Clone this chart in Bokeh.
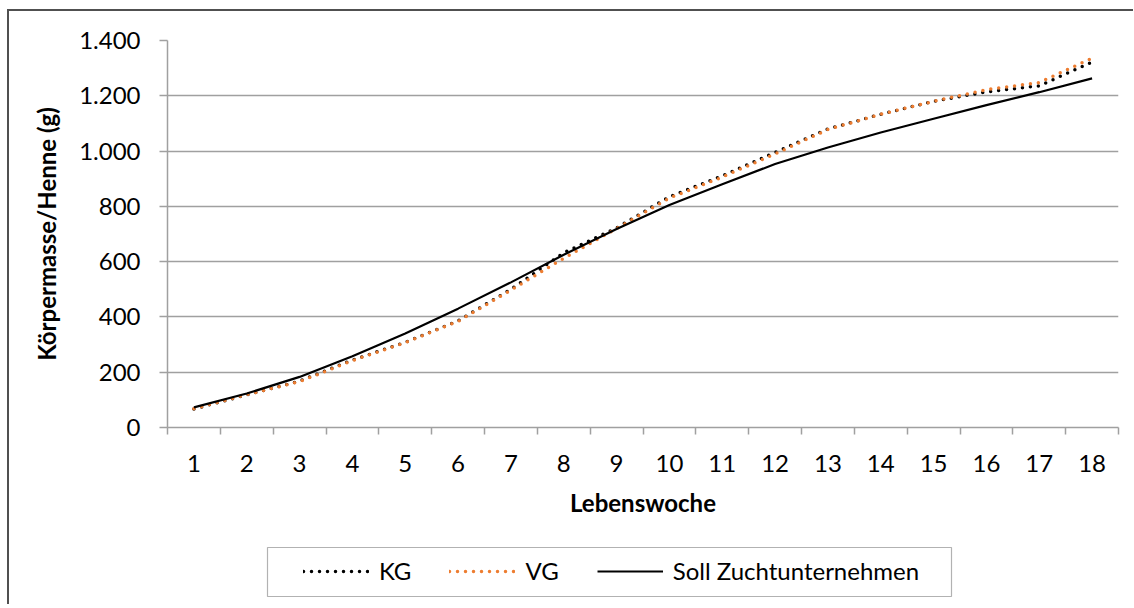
from bokeh.plotting import figure
from bokeh.layouts import column
from bokeh.models import (Range1d, FixedTicker, Legend, LegendItem, BoxAnnotation)
from bokeh.embed import file_html
from bokeh.resources import INLINE

# ---- data ----
weeks = list(range(1, 19))
kg = [67, 118, 168, 244, 308, 386, 500, 632, 722, 835, 910, 995, 1080, 1133, 1180, 1214, 1236, 1322]
vg = [68, 119, 166, 242, 307, 384, 497, 612, 720, 830, 906, 990, 1078, 1133, 1180, 1222, 1248, 1336]
soll = [73, 123, 183, 258, 340, 430, 525, 625, 718, 805, 880, 953, 1013, 1067, 1117, 1166, 1213, 1263]
y_ticks = [0, 200, 400, 600, 800, 1000, 1200, 1400]
y_tick_labels = ["0", "200", "400", "600", "800", "1.000", "1.200", "1.400"]
series_names = ["KG", "VG", "Soll Zuchtunternehmen"]
x_title = "Lebenswoche"
y_title = "Körpermasse/Henne (g)"

FONT = "Lato"
GRID = "#a0a0a0"
ORANGE = "#ED7D31"

W = 1124          # width of both figures
H1 = 525          # main chart height
H2 = 68           # legend strip height
BL, BR = 158, 15  # left / right borders (frame spans page x 167..1118)

p = figure(width=W, height=H1, output_backend="svg", toolbar_location=None,
           x_range=Range1d(weeks[0] - 0.5, weeks[-1] + 0.5),
           y_range=Range1d(y_ticks[0], y_ticks[-1]),
           min_border_left=BL, min_border_right=BR, min_border_top=29,
           min_border_bottom=109)
p.outline_line_color = None
p.background_fill_color = "white"
p.border_fill_color = "white"

# grid
p.xgrid.visible = False
p.ygrid.ticker = FixedTicker(ticks=y_ticks)
p.ygrid.grid_line_color = GRID
p.ygrid.grid_line_width = 1.5

# x axis: labels at category centres, ticks at category boundaries
bounds = [w - 0.5 for w in weeks] + [weeks[-1] + 0.5]
xa = p.xaxis[0]
xa.ticker = FixedTicker(ticks=weeks, minor_ticks=bounds)
xa.major_tick_out = 0
xa.major_tick_in = 0
xa.minor_tick_out = 7
xa.minor_tick_in = 0
xa.minor_tick_line_color = GRID
xa.minor_tick_line_width = 1.5
xa.axis_line_color = GRID
xa.axis_line_width = 1.5
xa.major_label_text_font = FONT
xa.major_label_text_font_size = "24px"
xa.major_label_text_color = "black"
xa.major_label_standoff = 20
xa.axis_label = x_title
xa.axis_label_text_font = FONT
xa.axis_label_text_font_size = "24px"
xa.axis_label_text_font_style = "bold"
xa.axis_label_text_color = "black"
xa.axis_label_standoff = 13

ya = p.yaxis[0]
ya.ticker = FixedTicker(ticks=y_ticks)
ya.major_label_overrides = {t: l for t, l in zip(y_ticks, y_tick_labels)}
ya.major_tick_out = 8
ya.major_tick_in = 0
ya.major_tick_line_color = GRID
ya.major_tick_line_width = 1.5
ya.minor_tick_line_color = None
ya.axis_line_color = GRID
ya.axis_line_width = 1.5
ya.major_label_text_font = FONT
ya.major_label_text_font_size = "24px"
ya.major_label_text_color = "black"
ya.major_label_standoff = 19
ya.axis_label = y_title
ya.axis_label_text_font = FONT
ya.axis_label_text_font_size = "24px"
ya.axis_label_text_font_style = "bold"
ya.axis_label_text_color = "black"
ya.axis_label_standoff = 15

# series
styles = [dict(line_color="black", line_width=3.5, line_dash="0 8", line_cap="round"),
          dict(line_color=ORANGE, line_width=3.5, line_dash="0 8", line_cap="round"),
          dict(line_color="black", line_width=2.2)]
p.line(weeks, kg, **styles[0])
p.line(weeks, vg, **styles[1])
p.line(weeks, soll, **styles[2])

# ---- legend strip (second figure; its frame is aligned with the chart frame,
#      ranges expressed in page pixels) ----
FL, FR = 167, 1118
T0 = 11 + H1
q = figure(width=W, height=H2, output_backend="svg", toolbar_location=None,
           x_range=Range1d(FL, FR), y_range=Range1d(T0 + H2, T0),
           x_axis_type=None, y_axis_type=None,
           min_border_left=BL, min_border_right=BR, min_border_top=0,
           min_border_bottom=0)
q.outline_line_color = None
q.xgrid.visible = False
q.ygrid.visible = False
q.background_fill_color = "white"
q.border_fill_color = "white"

nan = float("nan")
proxies = [q.line([nan], [nan], **s) for s in styles]
legend = Legend(items=[LegendItem(label=n, renderers=[r]) for n, r in zip(series_names, proxies)],
                orientation="horizontal", location=(303 - FL, 19), margin=0,
                padding=10, spacing=38, glyph_width=66, glyph_height=20,
                label_standoff=10, border_line_color=None,
                background_fill_alpha=0,
                label_text_font=FONT, label_text_font_size="24px",
                label_text_color="black")
q.add_layout(legend, "center")
q.add_layout(BoxAnnotation(left=267, right=951, top=547, bottom=596,
                           fill_alpha=0, line_color="black", line_width=1.2))

layout = column(p, q, spacing=0)
layout.styles = {"margin-left": "7px", "margin-top": "9px",
                 "border-left": "2px solid #505050",
                 "border-top": "2px solid #505050"}

open("out.html", "w").write(file_html(layout, INLINE))
